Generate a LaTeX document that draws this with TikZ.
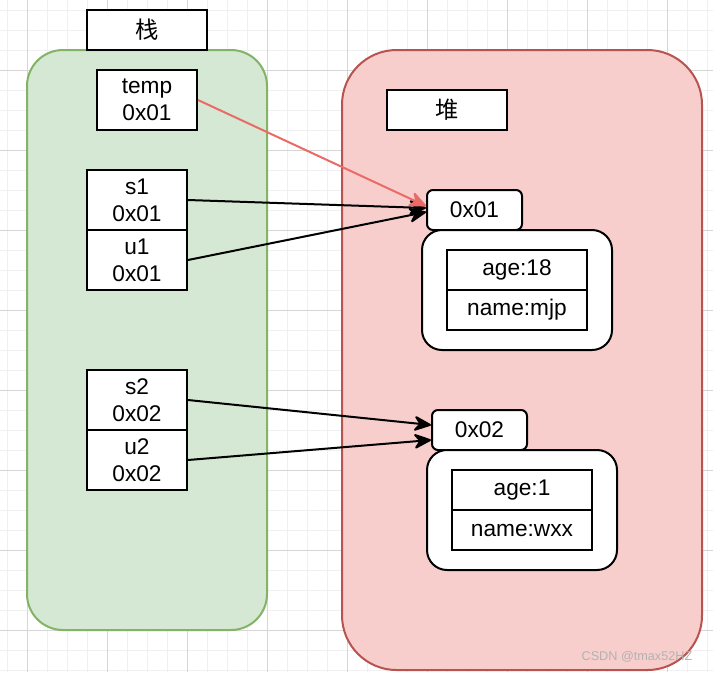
\documentclass[tikz,border=0pt]{standalone}
\usepackage{fontspec}
\setmainfont{Liberation Sans}
\newfontfamily\cjk{Noto Sans CJK SC}
\usetikzlibrary{arrows.meta}
\definecolor{gfill}{HTML}{D5E8D4}
\definecolor{gline}{HTML}{82B366}
\definecolor{rfill}{HTML}{F8CECC}
\definecolor{rline}{HTML}{B85450}
\definecolor{rarrow}{HTML}{EA6B66}
\definecolor{minorg}{HTML}{F0F0F0}
\definecolor{majorg}{HTML}{D6D6D6}
\tikzset{
  txt/.style={font=\fontsize{17}{20.25}\selectfont},
  cell/.style={txt, draw=black, line width=1.5pt, fill=white, inner sep=0pt, align=center, minimum width=75pt, minimum height=45pt},
  half/.style={txt, draw=black, line width=1.5pt, fill=white, inner sep=0pt, align=center, minimum width=105pt, minimum height=30pt},
  title/.style={draw=black, line width=1.5pt, fill=white, inner sep=0pt, minimum width=90pt, minimum height=30pt, font=\cjk\fontsize{17.5}{20}\selectfont},
  addr/.style={txt, draw=black, line width=1.5pt, fill=white, rounded corners=4.5pt, inner sep=0pt, minimum width=71.25pt, minimum height=30pt},
  obj/.style={draw=black, line width=1.5pt, fill=white, rounded corners=15pt, inner sep=0pt, minimum width=142.5pt, minimum height=90pt},
  link/.style={line width=1.5pt, arrows={-Stealth[length=15pt, width=13pt, inset=5pt, round]}},
}
\begin{document}
\begin{tikzpicture}[x=0.75pt,y=-0.75pt]
\useasboundingbox (0,0) rectangle (713,672);
\fill[white] (0,0) rectangle (713,672);
% grid
\foreach \x in {7,27,...,707} \draw[minorg, line width=0.75pt] (\x,0) -- (\x,672);
\foreach \y in {10,30,...,670} \draw[minorg, line width=0.75pt] (0,\y) -- (713,\y);
\foreach \x in {27,107,...,667} \draw[majorg, line width=0.75pt] (\x,0) -- (\x,672);
\foreach \y in {70,150,...,630} \draw[majorg, line width=0.75pt] (0,\y) -- (713,\y);
% containers
\draw[fill=gfill, draw=gline, line width=1.5pt, rounded corners=27pt] (27,50) rectangle (267,630);
\draw[fill=rfill, draw=rline, line width=1.5pt, rounded corners=41pt] (342,50) rectangle (702,670);
% stack
\node[title] (stk) at (147,30) {栈};
\node[cell] (temp) at (147,100) {temp\\0x01};
\node[cell] (s1) at (137,200) {s1\\0x01};
\node[cell] (u1) at (137,260) {u1\\0x01};
\node[cell] (s2) at (137,400) {s2\\0x02};
\node[cell] (u2) at (137,460) {u2\\0x02};
% heap
\node[title] (heap) at (447,110) {堆};
\node[addr] (a1) at (474.5,210) {0x01};
\node[obj] (o1) at (517,290) {};
\node[half] (age1) at (517,270) {age:18};
\node[half] (name1) at (517,310) {name:mjp};
\node[addr] (a2) at (479.5,430) {0x02};
\node[obj] (o2) at (522,510) {};
\node[half] (age2) at (522,490) {age:1};
\node[half] (name2) at (522,530) {name:wxx};
% links
\draw[link] (s1.east) -- ([yshift=1.5pt]a1.west);
\draw[link] (u1.east) -- ([yshift=-1.5pt]a1.west);
\draw[link, draw=rarrow, fill=rarrow] (temp.east) -- ([yshift=3pt]a1.west);
\draw[link] (s2.east) -- ([yshift=3.75pt]a2.west);
\draw[link] (u2.east) -- ([yshift=-7.5pt]a2.west);
% watermark
\node[text=black!30, font=\fontsize{9.5}{11}\selectfont, anchor=east] (wm) at (697,657) {CSDN @tmax52HZ};
\end{tikzpicture}
\end{document}
